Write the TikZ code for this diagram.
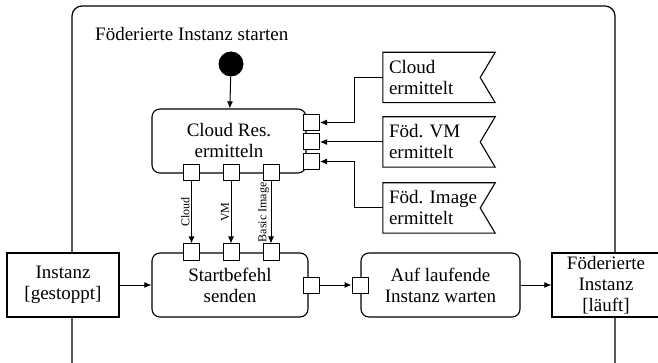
\documentclass[tikz,border=0pt]{standalone}
\usepackage{fontspec}
\setmainfont{Liberation Serif}
\usetikzlibrary{arrows.meta,positioning,calc}
\setlength{\fboxsep}{1pt}
\frenchspacing

\tikzset{
  action/.style={draw, line width=1.1pt, rounded corners=8pt, fill=white,
                 align=center, inner sep=0pt},
  object/.style={draw, line width=1.1pt, fill=white, align=center, inner sep=0pt},
  port/.style={draw, line width=1pt, fill=white, minimum size=16pt, inner sep=0pt},
  sigbox/.style={align=left, text width=100pt, inner xsep=6pt, inner ysep=0pt,
                 minimum height=50pt},
  flow/.style={line width=1pt, -{Latex[length=7pt,width=6pt]}},
  lbl/.style={font=\fontsize{12}{13}\selectfont, rotate=90, inner sep=1.5pt},
}

\begin{document}
\begin{tikzpicture}[x=1pt, y=-1pt, font=\fontsize{19}{21}\selectfont]
  \useasboundingbox (0,0) rectangle (658,363);
  % activity frame
  \draw[line width=1.2pt, rounded corners=10pt] (72,6) rectangle (615,378);
  \node[anchor=base west, inner sep=0pt] (title) at (95,41) {Föderierte Instanz starten};

  % initial node
  \node[circle, fill, minimum size=25pt, inner sep=0pt] (init) at (231,64) {};

  % actions
  \node[action, minimum width=154pt, minimum height=64pt] (resolve) at (229,141) {Cloud Res.\\ermitteln};
  \node[action, minimum width=156pt, minimum height=64pt] (send) at (230,285) {Startbefehl\\senden};
  \node[action, minimum width=159pt, minimum height=64pt] (wait) at (440.5,285) {Auf laufende\\Instanz warten};

  % object nodes
  \node[object, minimum width=112pt, minimum height=64pt] (stopped) at (63,285) {Instanz\\{[gestoppt]}};
  \node[object, minimum width=110pt, minimum height=64pt] (running) at (607,285) {};
  \node[align=center, inner sep=0pt] (runtext) at (606,286) {Föderierte\\Instanz\\{\colorbox{white}{[läuft]}}};

  % input pins on the right
  \foreach \i/\y in {1/122.5,2/142,3/161.5}
    \node[port] (rin\i) at (311.5,\y) {};
  % output and input pins
  \foreach \i/\x in {1/191.5,2/231,3/271}{
    \node[port] (rout\i) at (\x,172.5) {};
    \node[port] (sin\i) at (\x,252) {};
  }
  \node[port] (sout) at (311,285) {};
  \node[port] (win) at (360,285) {};

  % accepted signals
  \foreach \n/\y/\t in {cloudsig/77.5/{Cloud\\ermittelt},vmsig/142/{Föd. VM\\ermittelt},imgsig/208/{Föd. Image\\ermittelt}}{
    \node[sigbox] (\n) at (439,\y) {\t};
    \draw[line width=1.1pt] (\n.north west) -- (\n.north east) -- ($(\n.east)+(-15,0)$)
      -- (\n.south east) -- (\n.south west) -- cycle;
  }

  % flows
  \draw[flow] (init) -- (resolve);
  \draw[flow] (cloudsig.west) -- ++(-28,0) |- (rin1.east);
  \draw[flow] (vmsig) -- (rin2);
  \draw[flow] (imgsig.west) -- ++(-28,0) |- (rin3.east);
  \foreach \i/\t in {1/Cloud,2/VM,3/Basic Image}
    \draw[flow] (rout\i) -- node[lbl, midway, anchor=south] {\t} (sin\i);
  \draw[flow] (stopped) -- (send);
  \draw[flow] (sout) -- (win);
  \draw[flow] (wait) -- (running);
\end{tikzpicture}
\end{document}
